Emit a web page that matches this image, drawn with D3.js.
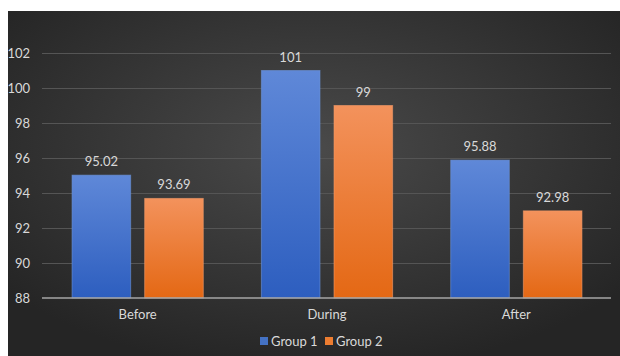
<!DOCTYPE html>
<html>
<head>
<meta charset="utf-8">
<script src="https://cdn.jsdelivr.net/npm/d3@7"></script>
<style>
  body { margin: 0; background: #fff; }
  #chart { width: 620px; height: 356px; }
  text { font-family: Lato, "Open Sans", sans-serif; }
</style>
</head>
<body>
<div id="chart"></div>
<script>
// chart data
const categories = ["Before", "During", "After"];
const groups = ["Group 1", "Group 2"];
const group1 = [95.02, 101, 95.88];
const group2 = [93.69, 99, 92.98];
const yTicks = [88, 90, 92, 94, 96, 98, 100, 102];

const rows = categories.map((c, i) => ({ cat: c, values: [group1[i], group2[i]] }));

const W = 620, H = 356;
const svg = d3.select("#chart").append("svg")
    .attr("width", W)
    .attr("height", H);

const defs = svg.append("defs");

// dark radial background
const bg = defs.append("radialGradient")
    .attr("id", "bg")
    .attr("cx", "50%").attr("cy", "40%").attr("r", "65%");
bg.append("stop").attr("offset", "0%").attr("stop-color", "#4a4a4a");
bg.append("stop").attr("offset", "100%").attr("stop-color", "#252525");

// bar gradients
const fills = [["#5f88d8", "#2d5ebf"], ["#f3925c", "#e46814"]];
fills.forEach((f, i) => {
    const g = defs.append("linearGradient")
        .attr("id", "bar" + i)
        .attr("x1", 0).attr("y1", 0).attr("x2", 0).attr("y2", 1);
    g.append("stop").attr("offset", "0%").attr("stop-color", f[0]);
    g.append("stop").attr("offset", "100%").attr("stop-color", f[1]);
});
const legendColors = ["#4472c4", "#ed7d31"];

svg.append("rect")
    .attr("x", 8).attr("y", 11)
    .attr("width", W - 8).attr("height", H - 11)
    .attr("fill", "url(#bg)");

const margin = { left: 43, right: 9, top: 53, bottom: 58 };

// scales
const x0 = d3.scaleBand()
    .domain(categories)
    .range([margin.left, W - margin.right])
    .padding(0);

const x1 = d3.scaleBand()
    .domain(groups)
    .range([0, x0.bandwidth()])
    .paddingInner(0.193)
    .paddingOuter(0.4);

const y = d3.scaleLinear()
    .domain([88, 102])
    .range([H - margin.bottom, margin.top]);

// gridlines
svg.append("g")
    .selectAll("line")
    .data(yTicks.slice(1))
    .join("line")
    .attr("x1", margin.left - 1)
    .attr("x2", W - margin.right)
    .attr("y1", d => Math.round(y(d)) + 0.5)
    .attr("y2", d => Math.round(y(d)) + 0.5)
    .attr("stroke", "#555")
    .attr("stroke-width", 1);

// y axis labels
const yAxis = d3.axisLeft(y)
    .tickValues(yTicks)
    .tickSize(0)
    .tickPadding(0);

svg.append("g")
    .attr("transform", "translate(30,0)")
    .call(yAxis)
    .call(g => g.select(".domain").remove())
    .selectAll("text")
    .attr("fill", "#d9d9d9")
    .attr("font-size", 13)
    .attr("font-family", "Lato, sans-serif");

// bars
const cat = svg.append("g")
    .selectAll("g")
    .data(rows)
    .join("g")
    .attr("transform", d => "translate(" + x0(d.cat) + ",0)");

cat.selectAll("rect")
    .data(d => d.values.map((v, i) => ({ g: groups[i], i: i, v: v })))
    .join("rect")
    .attr("x", d => x1(d.g))
    .attr("y", d => y(d.v))
    .attr("width", x1.bandwidth())
    .attr("height", d => y(88) - y(d.v))
    .attr("fill", d => "url(#bar" + d.i + ")")
    .attr("stroke", d => d.i == 0 ? "#6d92d8" : "#f49a68")
    .attr("stroke-opacity", 0.6)
    .attr("stroke-width", 1);

// value labels
cat.selectAll(".val")
    .data(d => d.values.map((v, i) => ({ g: groups[i], v: v })))
    .join("text")
    .attr("class", "val")
    .attr("x", d => x1(d.g) + x1.bandwidth() / 2)
    .attr("y", d => y(d.v) - 9)
    .attr("text-anchor", "middle")
    .attr("fill", "#d9d9d9")
    .attr("font-size", 13)
    .text(d => d.v);

// x axis line
svg.append("line")
    .attr("x1", margin.left - 1)
    .attr("x2", W - margin.right)
    .attr("y1", y(88))
    .attr("y2", y(88))
    .attr("stroke", "#a6a6a6")
    .attr("stroke-width", 1.5);

// category labels
const xAxis = d3.axisBottom(x0).tickSize(0).tickPadding(0);
svg.append("g")
    .attr("transform", "translate(0," + (y(88) + 21) + ")")
    .call(xAxis)
    .call(g => g.select(".domain").remove())
    .selectAll("text")
    .attr("dy", 0)
    .attr("fill", "#d9d9d9")
    .attr("font-size", 13)
    .attr("font-family", "Lato, sans-serif");

// legend
const legend = svg.append("g")
    .attr("transform", "translate(260,337)");
const legX = [0, 65];
groups.forEach((g, i) => {
    legend.append("rect")
        .attr("x", legX[i]).attr("y", 0)
        .attr("width", 8).attr("height", 8)
        .attr("fill", legendColors[i]);
    legend.append("text")
        .attr("x", legX[i] + 11)
        .attr("y", 8.5)
        .attr("fill", "#d9d9d9")
        .attr("font-size", 13)
        .text(g);
});
</script>
</body>
</html>
